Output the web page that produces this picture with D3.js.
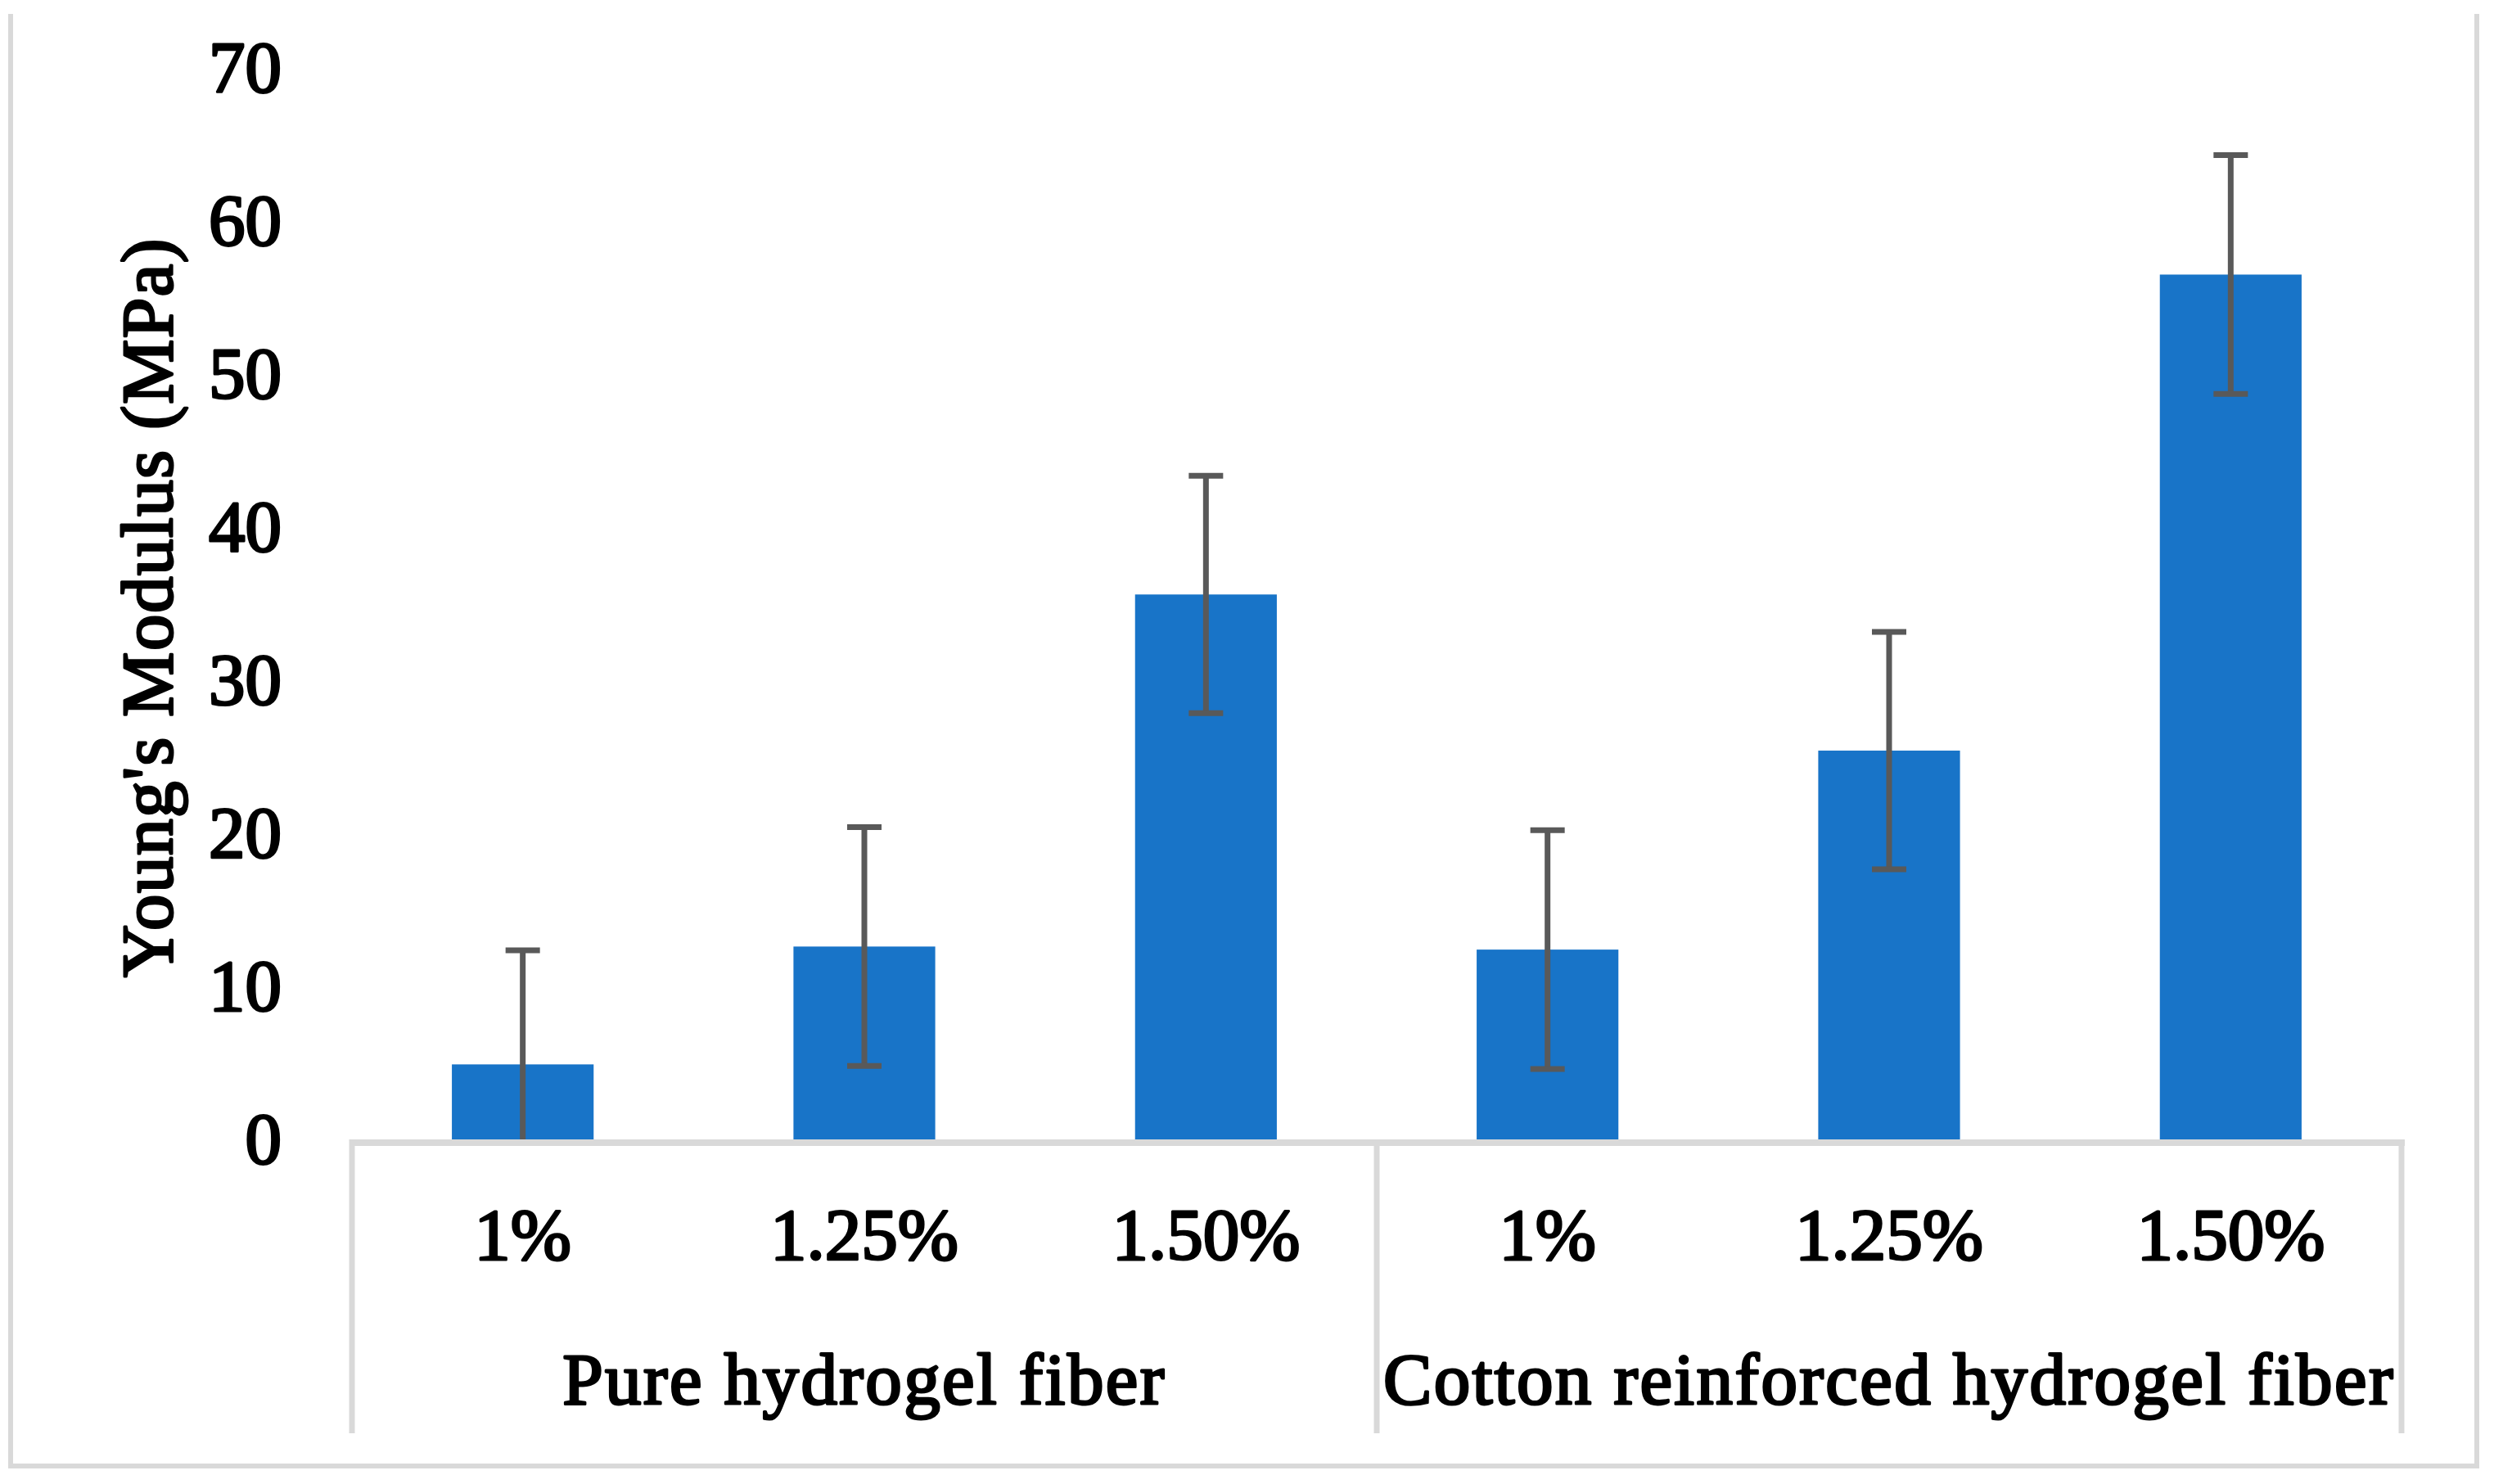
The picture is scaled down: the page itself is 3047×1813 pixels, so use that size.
<!DOCTYPE html>
<html>
<head>
<meta charset="utf-8">
<script src="https://cdn.jsdelivr.net/npm/d3@7"></script>
<style>
  html, body { margin: 0; padding: 0; background: #ffffff; }
  svg { display: block; }
</style>
</head>
<body>
<div id="chart"></div>
<script>
// ---- data ----
const categories = ["1%", "1.25%", "1.50%", "1%", "1.25%", "1.50%"];
const groups = ["Pure hydrogel fiber", "Cotton reinforced hydrogel fiber"];
const groupOf = [0, 0, 0, 1, 1, 1];
const values = [4.9, 12.6, 35.6, 12.4, 25.4, 56.5];
const errors = [7.45, 7.8, 7.75, 7.8, 7.75, 7.8];
const yTicks = [0, 10, 20, 30, 40, 50, 60, 70];
const yTitle = "Young's Modulus (MPa)";

// ---- layout ----
const W = 3047, H = 1813;
const FONT = "'Liberation Serif', 'Times New Roman', serif";
const FS = 89;
const gridColor = "#d9d9d9";
const barColor = "#1874c8";
const errColor = "#595959";

function styleText(sel) {
  sel.attr("font-family", FONT).attr("font-size", FS).attr("font-weight", "normal")
    .attr("fill", "#000").attr("stroke", "#000").attr("stroke-width", 3)
    .attr("stroke-linejoin", "round")
    .attr("letter-spacing", 1.5);
}

const svg = d3.select("#chart").append("svg")
  .attr("width", W).attr("height", H)
  .style("background", "#ffffff");

const x0 = 430, x1 = 2934;
const yBase = 1392, yTop = 83;
const sepBottom = 1751;

const x = d3.scaleBand()
  .domain(d3.range(values.length))
  .range([x0, x1])
  .paddingInner(0.585)
  .paddingOuter(0.2925);
const step = x.step();

const y = d3.scaleLinear().domain([0, 70]).range([yBase, yTop]);

// outer chart border (left, bottom, right)
svg.append("path")
  .attr("d", `M13,17 V1791 H3026 V17`)
  .attr("fill", "none")
  .attr("stroke", gridColor)
  .attr("stroke-width", 6);

// bars
svg.append("g").selectAll("rect")
  .data(values)
  .join("rect")
  .attr("x", (d, i) => x(i))
  .attr("width", x.bandwidth())
  .attr("y", d => y(d))
  .attr("height", d => y(0) - y(d))
  .attr("fill", barColor);

// category axis line and group separators
svg.append("line")
  .attr("x1", x0 - 3).attr("x2", x1 + 4)
  .attr("y1", yBase + 4).attr("y2", yBase + 4)
  .attr("stroke", gridColor).attr("stroke-width", 8);

const sepX = [x0, x(3) - (step - x.bandwidth()) / 2, x1];
svg.append("g").selectAll("line")
  .data(sepX)
  .join("line")
  .attr("x1", d => d).attr("x2", d => d)
  .attr("y1", yBase).attr("y2", sepBottom)
  .attr("stroke", gridColor).attr("stroke-width", 7);

// error bars
const capW = 42;
const eg = svg.append("g").attr("stroke", errColor).attr("stroke-width", 7).attr("fill", "none");
values.forEach((v, i) => {
  const cx = x(i) + x.bandwidth() / 2;
  const hi = v + errors[i];
  const lo = Math.max(0, v - errors[i]);
  eg.append("line").attr("x1", cx).attr("x2", cx).attr("y1", y(hi)).attr("y2", y(lo));
  eg.append("line").attr("x1", cx - capW / 2).attr("x2", cx + capW / 2).attr("y1", y(hi)).attr("y2", y(hi));
  if (v - errors[i] > 0) {
    eg.append("line").attr("x1", cx - capW / 2).attr("x2", cx + capW / 2).attr("y1", y(lo)).attr("y2", y(lo));
  }
});

// y axis (labels only)
const yAxis = d3.axisLeft(y).tickValues(yTicks).tickSize(0).tickPadding(0).tickFormat(d3.format("d"));
const yg = svg.append("g").attr("transform", "translate(344,0)").call(yAxis);
yg.select(".domain").remove();
yg.selectAll("text").call(styleText).attr("letter-spacing", 0).attr("x", 0).attr("dy", "0.32em");

// x axis category labels
const xAxis = d3.axisBottom(x).tickSize(0).tickPadding(0).tickFormat(i => categories[i]);
const xg = svg.append("g").attr("transform", `translate(0,1538)`).call(xAxis);
xg.select(".domain").remove();
xg.selectAll("text").call(styleText).attr("letter-spacing", 0).attr("y", 0).attr("dy", 0);

// group labels
svg.append("g").selectAll("text")
  .data(groups)
  .join("text")
  .attr("x", (g, gi) => {
    const idx = groupOf.map((k, i) => k === gi ? i : -1).filter(i => i >= 0);
    const a = x(idx[0]) - (step - x.bandwidth()) / 2;
    const b = x(idx[idx.length - 1]) + x.bandwidth() + (step - x.bandwidth()) / 2;
    return (a + b) / 2;
  })
  .attr("y", 1715)
  .attr("text-anchor", "middle")
  .call(styleText)
  .attr("letter-spacing", 2.4)
  .text(d => d);

// y title
svg.append("text")
  .attr("transform", `translate(210,742) rotate(-90)`)
  .attr("text-anchor", "middle")
  .call(styleText)
  .text(yTitle);
</script>
</body>
</html>
